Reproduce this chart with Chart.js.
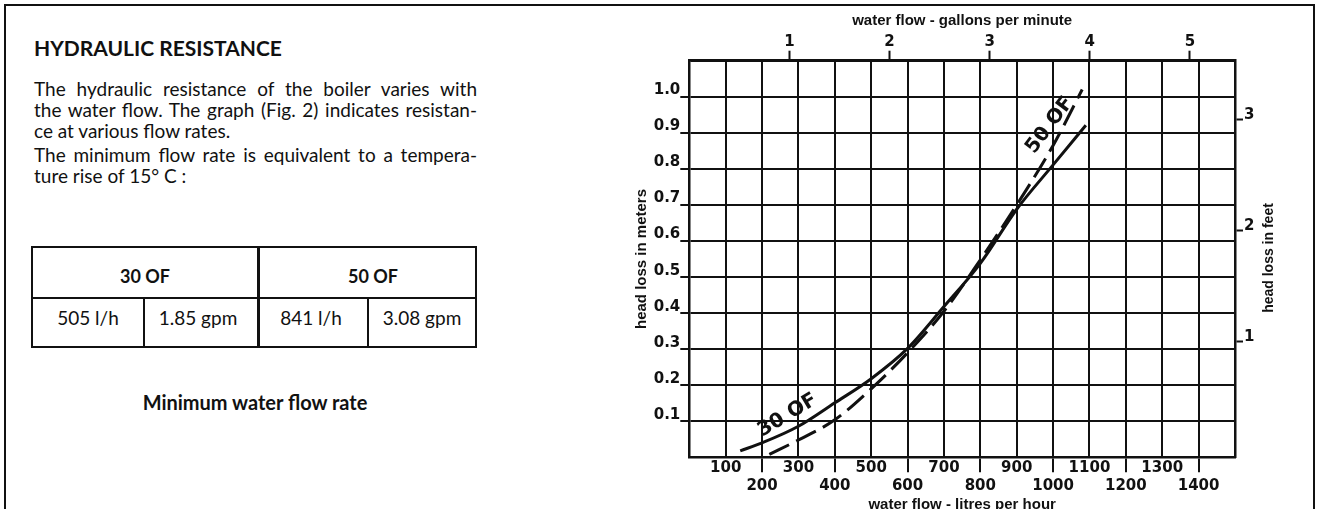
<!DOCTYPE html>
<html>
<head>
<meta charset="utf-8">
<title>Hydraulic resistance</title>
<script src="https://cdn.jsdelivr.net/npm/chart.js@4.4.1/dist/chart.umd.min.js"></script>
<style>
  html, body { margin: 0; padding: 0; background: #fff; }
  body { position: relative; width: 1324px; height: 509px; overflow: hidden; color: #111; font-family: Lato, "Open Sans", sans-serif; }
  .frame { position: absolute; left: 4px; top: 4px; width: 1307px; height: 530px; border: 2px solid #111; border-bottom: none; }
  .heading { position: absolute; left: 34px; top: 37px; font-size: 21px; line-height: 21px; font-weight: bold; margin: 0; }
  .para { position: absolute; left: 34px; width: 443px; font-size: 19px; line-height: 21px; }
  .para div { text-align: justify; text-align-last: justify; white-space: nowrap; }
  .para div.last { text-align-last: left; }
  .line { position: absolute; background: #111; }
  .cell { position: absolute; text-align: center; white-space: nowrap; }
  .head { font-weight: bold; font-size: 18px; line-height: 18px; }
  .val { font-size: 19px; line-height: 19px; }
  .caption { position: absolute; left: 105px; width: 300px; top: 392px; text-align: center; font-weight: bold; font-size: 20px; line-height: 20px; }
  #wrap { position: absolute; left: 630px; top: 0; width: 690px; height: 509px; }
</style>
</head>
<body>
<div class="frame"></div>

<div class="heading">HYDRAULIC RESISTANCE</div>
<div class="para" style="top: 78px;">
  <div>The hydraulic resistance of the boiler varies with</div>
  <div>the water flow. The graph (Fig. 2) indicates resistan-</div>
  <div class="last">ce at various flow rates.</div>
</div>
<div class="para" style="top: 144px;">
  <div>The minimum flow rate is equivalent to a tempera-</div>
  <div class="last">ture rise of 15° C :</div>
</div>

<!-- minimum flow table -->
<div class="line" style="left:31px; top:246px; width:446px; height:2px;"></div>
<div class="line" style="left:31px; top:346px; width:446px; height:2px;"></div>
<div class="line" style="left:31px; top:297px; width:446px; height:2px;"></div>
<div class="line" style="left:31px; top:246px; width:2px; height:102px;"></div>
<div class="line" style="left:475px; top:246px; width:2px; height:102px;"></div>
<div class="line" style="left:257px; top:246px; width:3px; height:102px;"></div>
<div class="line" style="left:143px; top:297px; width:2px; height:50px;"></div>
<div class="line" style="left:367px; top:297px; width:2px; height:50px;"></div>
<div class="cell head" style="left:45px; width:200px; top:267px;">30 OF</div>
<div class="cell head" style="left:273px; width:200px; top:267px;">50 OF</div>
<div class="cell val" style="left:38px; width:100px; top:308px;">505 l/h</div>
<div class="cell val" style="left:148px; width:100px; top:308px;">1.85 gpm</div>
<div class="cell val" style="left:261px; width:100px; top:308px;">841 l/h</div>
<div class="cell val" style="left:372px; width:100px; top:308px;">3.08 gpm</div>

<div class="caption">Minimum water flow rate</div>

<div id="wrap"><canvas id="lossChart" width="690" height="509"></canvas></div>

<script>
// 30 OF curve (solid) - litres per hour / metres of head
var flow30 = [140, 200, 300, 400, 500, 600, 700, 800, 900, 1000, 1090];
var head30 = [0.018, 0.040, 0.086, 0.151, 0.218, 0.302, 0.418, 0.538, 0.688, 0.811, 0.921];

// 50 OF curve (dashed)
var flow50 = [220, 300, 400, 500, 600, 700, 800, 900, 1000, 1080];
var head50 = [0.008, 0.048, 0.104, 0.190, 0.290, 0.405, 0.548, 0.700, 0.865, 1.020];

// tick labels
var gpmTicks = [1, 2, 3, 4, 5];
var feetTicks = [1, 2, 3];

var ink = '#111';

function points(xs, ys) {
  return xs.map(function (x, i) { return { x: x, y: ys[i] }; });
}

// text along the curves, given in data units
var curveLabels = [
  { text: '30 OF', x: 270, y: 0.116, angle: -31 },
  { text: '50 OF', x: 991, y: 0.921, angle: -53 }
];

var extras = {
  id: 'extras',
  afterDatasetsDraw: function (chart) {
    var ctx = chart.ctx;
    var sx = chart.scales.x, sy = chart.scales.y;
    ctx.save();
    ctx.fillStyle = ink;
    ctx.textAlign = 'center';
    ctx.textBaseline = 'middle';
    ctx.font = 'bold 20px "DejaVu Sans"';
    curveLabels.forEach(function (l) {
      ctx.save();
      ctx.translate(sx.getPixelForValue(l.x), sy.getPixelForValue(l.y));
      ctx.rotate(l.angle * Math.PI / 180);
      ctx.fillText(l.text, 0, 0);
      ctx.restore();
    });
    // right axis title reads bottom to top like the left one
    var area = chart.chartArea;
    ctx.font = 'bold 14px "Liberation Sans"';
    ctx.translate(chart.scales.y2.right - 51, (area.top + area.bottom) / 2 - 1);
    ctx.rotate(-Math.PI / 2);
    ctx.fillText('head loss in feet', 0, 0);
    ctx.restore();
  }
};

var hidden = 'rgba(0,0,0,0)';
var titleFont = { family: 'Liberation Sans', weight: 'bold', size: 15 };

Chart.defaults.font.family = '"DejaVu Sans"';
Chart.defaults.color = ink;

var chart = new Chart(document.getElementById('lossChart').getContext('2d'), {
  type: 'line',
  data: {
    datasets: [
      {
        label: '30 OF',
        data: points(flow30, head30),
        borderColor: ink,
        borderWidth: 3,
        pointRadius: 0,
        cubicInterpolationMode: 'monotone',
        fill: false
      },
      {
        label: '50 OF',
        data: points(flow50, head50),
        borderColor: ink,
        borderWidth: 3,
        borderDash: [22, 8],
        pointRadius: 0,
        cubicInterpolationMode: 'monotone',
        fill: false
      }
    ]
  },
  options: {
    responsive: false,
    animation: false,
    events: [],
    layout: { padding: 0 },
    plugins: { legend: { display: false }, tooltip: { enabled: false } },
    scales: {
      x: {
        type: 'linear',
        position: 'bottom',
        min: 0,
        max: 1500,
        afterFit: function (s) { s.height = 51.7; },
        ticks: {
          stepSize: 100,
          autoSkip: false,
          maxRotation: 0,
          padding: -13,
          font: { size: 15, weight: 'bold', lineHeight: 1.2 },
          callback: function (v) {
            if (v <= 0 || v >= 1500) return '';
            // odd hundreds on the upper row, even ones below
            return v % 200 === 0 ? ['', String(v)] : [String(v), ''];
          }
        },
        grid: {
          color: ink,
          lineWidth: 2,
          tickLength: 15,
          tickWidth: 2,
          tickColor: function (c) {
            var v = c.tick ? c.tick.value : 0;
            return (v > 0 && v < 1500 && v % 200 === 0) ? ink : hidden;
          }
        },
        border: { color: ink, width: 2.5 },
        title: { display: true, text: 'water flow - litres per hour', font: titleFont, padding: { top: 0, bottom: -5 } }
      },
      x2: {
        type: 'linear',
        position: 'top',
        min: 0,
        max: 5.45,
        afterFit: function (s) { s.height = 60.7; },
        afterBuildTicks: function (s) { s.ticks = gpmTicks.map(function (v) { return { value: v }; }); },
        ticks: { padding: 0, font: { size: 15, weight: 'bold' } },
        grid: { drawOnChartArea: false, tickLength: 10, tickWidth: 2, tickColor: ink },
        border: { color: ink, width: 2.5 },
        title: { display: true, text: 'water flow - gallons per minute', font: titleFont, padding: { top: 12, bottom: 0 } }
      },
      y: {
        min: 0,
        max: 1.1,
        afterFit: function (s) { s.width = 59.3; },
        ticks: {
          stepSize: 0.1,
          padding: 0,
          font: { size: 15, weight: 'bold', lineHeight: 0.85 },
          callback: function (v) {
            return (v > 0.05 && v < 1.05) ? [v.toFixed(1), ''] : '';
          }
        },
        grid: {
          color: ink,
          lineWidth: 2,
          tickLength: 9,
          tickWidth: 2,
          tickColor: function (c) {
            var v = c.tick ? c.tick.value : 0;
            return (v > 0.05 && v < 1.05) ? ink : hidden;
          }
        },
        border: { color: ink, width: 2.5 },
        title: { display: true, text: 'head loss in meters', font: titleFont, padding: { top: 3, bottom: 0 } }
      },
      y2: {
        position: 'right',
        min: -0.042,
        max: 3.527,
        afterFit: function (s) { s.width = 85; },
        afterBuildTicks: function (s) { s.ticks = feetTicks.map(function (v) { return { value: v }; }); },
        ticks: {
          padding: 1,
          font: { size: 15, weight: 'bold', lineHeight: 0.55 },
          callback: function (v) { return [String(v), '']; }
        },
        grid: { drawOnChartArea: false, tickLength: 8, tickWidth: 2, tickColor: ink },
        border: { color: ink, width: 2.5 }
      }
    }
  },
  plugins: [extras]
});
</script>
</body>
</html>
